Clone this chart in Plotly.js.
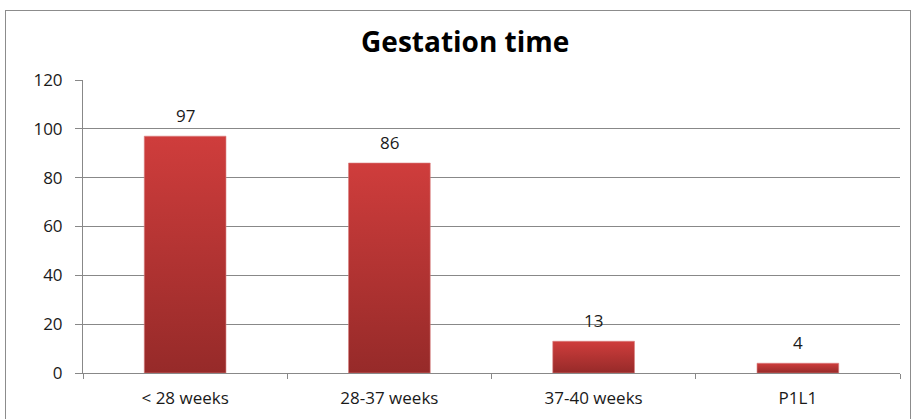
<!DOCTYPE html>
<html>
<head>
<meta charset="utf-8">
<script src="https://cdn.plot.ly/plotly-3.0.1.min.js"></script>
<style>
  html, body { margin:0; padding:0; background:#fff; width:912px; height:419px; overflow:hidden; }
  #frame { position:absolute; left:5px; top:10px; width:904px; height:420px; border:1px solid #8c8c8c; }
  #chart { width:904px; height:420px; }
</style>
</head>
<body>
<div id="frame"><div id="chart"></div></div>
<script>
const categories = ["< 28 weeks", "28-37 weeks", "37-40 weeks", "P1L1"];
const counts = [97, 86, 13, 4];
const yTicks = [0, 20, 40, 60, 80, 100, 120];

const FONT = "'Open Sans', sans-serif";

const trace = {
  type: "bar",
  x: categories,
  y: counts,
  marker: { color: "#b83332", line: { width: 0 } },
  hoverinfo: "none"
};

const labelAnnotations = categories.map(function (c, i) {
  return {
    x: c, y: counts[i], xref: "x", yref: "y",
    text: String(counts[i]), showarrow: false,
    yanchor: "bottom", yshift: 7,
    font: { family: FONT, size: 17, color: "#1a1a1a" }
  };
});

const layout = {
  width: 904, height: 420,
  margin: { l: 77, r: 10, t: 69, b: 58 },
  paper_bgcolor: "#fff", plot_bgcolor: "#fff",
  bargap: 0.6,
  showlegend: false,
  annotations: labelAnnotations,
  title: {
    text: "<b>Gestation time</b>",
    font: { family: FONT, size: 28, color: "#000" },
    xref: "container", x: 0.508, xanchor: "center",
    yref: "container", y: 0.926, yanchor: "middle"
  },
  xaxis: {
    type: "category",
    showline: true, linecolor: "#888", linewidth: 1,
    ticks: "outside", tickson: "boundaries", ticklen: 5, tickcolor: "#888",
    ticklabelstandoff: 10,
    tickfont: { family: FONT, size: 17, color: "#1a1a1a" },
    showgrid: false, zeroline: false
  },
  yaxis: {
    range: [0, 120], tickvals: yTicks, ticktext: yTicks.map(String),
    showline: true, linecolor: "#888", linewidth: 1,
    ticks: "outside", ticklen: 7, tickcolor: "#888",
    ticklabelstandoff: 9,
    showgrid: true, gridcolor: "#888", gridwidth: 1,
    zeroline: false,
    tickfont: { family: FONT, size: 17, color: "#1a1a1a" }
  }
};

Plotly.newPlot("chart", [trace], layout, { displayModeBar: false, staticPlot: true }).then(function (gd) {
  const svg = gd.querySelector("svg.main-svg");
  const ns = "http://www.w3.org/2000/svg";
  let defs = svg.querySelector("defs");
  if (!defs) { defs = document.createElementNS(ns, "defs"); svg.insertBefore(defs, svg.firstChild); }
  const g = document.createElementNS(ns, "linearGradient");
  g.setAttribute("id", "barGrad");
  g.setAttribute("x1", "0"); g.setAttribute("y1", "0");
  g.setAttribute("x2", "0"); g.setAttribute("y2", "1");
  [["0%", "#cf3d3c"], ["100%", "#962a29"]].forEach(function (s) {
    const st = document.createElementNS(ns, "stop");
    st.setAttribute("offset", s[0]); st.setAttribute("stop-color", s[1]);
    g.appendChild(st);
  });
  defs.appendChild(g);
  gd.querySelectorAll(".bars .point path").forEach(function (p) {
    p.style.fill = "url(#barGrad)";
    p.style.stroke = "#d98080";
    p.style.strokeWidth = "0.6px";
  });
});
</script>
</body>
</html>
